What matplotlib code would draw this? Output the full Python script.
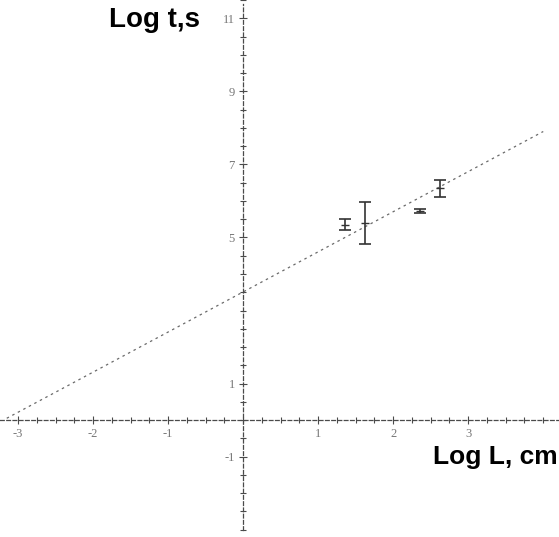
import numpy as np
import matplotlib.pyplot as plt
from matplotlib.ticker import FixedLocator, MultipleLocator

plt.rcParams['axes.unicode_minus'] = False

# fitted line (end points)
fit_x = [-3.15, 4.0]
fit_y = [0.05, 7.9]

# measured points with error bars
pts_x = [1.36, 1.63, 2.36, 2.63]
pts_y = [5.35, 5.40, 5.73, 6.35]
pts_err = [0.15, 0.58, 0.05, 0.23]

x_labels = [-3, -2, -1, 1, 2, 3]
y_labels = [-1, 1, 5, 7, 9, 11]

ink = '#4a4a4a'

fig = plt.figure(figsize=(5.59, 5.37), dpi=100)
ax = fig.add_axes([0, 0, 1, 1])
ax.set_xlim(-3.24, 4.21)
ax.set_ylim(-3.2, 11.5)

for s in ['top', 'right']:
    ax.spines[s].set_visible(False)
ax.spines['left'].set_position('zero')
ax.spines['bottom'].set_position('zero')
ax.spines['left'].set_bounds(-3.0, 11.4)
for s in ['left', 'bottom']:
    ax.spines[s].set_linestyle((0, (3, 2)))
    ax.spines[s].set_color(ink)
    ax.spines[s].set_linewidth(0.9)

ax.xaxis.set_major_locator(FixedLocator(x_labels))
ax.yaxis.set_major_locator(FixedLocator(y_labels))
ax.xaxis.set_minor_locator(MultipleLocator(0.25))
ax.yaxis.set_minor_locator(MultipleLocator(0.5))
ax.tick_params(which='both', direction='inout', color=ink, width=0.8)
ax.tick_params(which='major', length=6, labelsize=9, labelcolor='#777777', pad=3)
ax.tick_params(which='minor', length=4)
for lab in ax.get_xticklabels() + ax.get_yticklabels():
    lab.set_family('Liberation Serif')

ax.plot(fit_x, fit_y, linestyle=(0, (2, 3)), color='#6a6a6a', linewidth=0.9)
ax.errorbar(pts_x, pts_y, yerr=pts_err, fmt='none', ecolor='#333333',
            elinewidth=1.2, capsize=4, capthick=1.2)
ax.plot(pts_x, pts_y, linestyle='none', marker='_', markersize=6, color='#333333')

ax.text(-0.58, 10.95, 'Log t,s', fontsize=20, fontweight='bold',
        family='Liberation Sans', ha='right', va='center')
ax.text(4.19, -1.02, 'Log L, cm', fontsize=19, fontweight='bold',
        family='Liberation Sans', ha='right', va='center')

fig.savefig('out.png', dpi=100)
